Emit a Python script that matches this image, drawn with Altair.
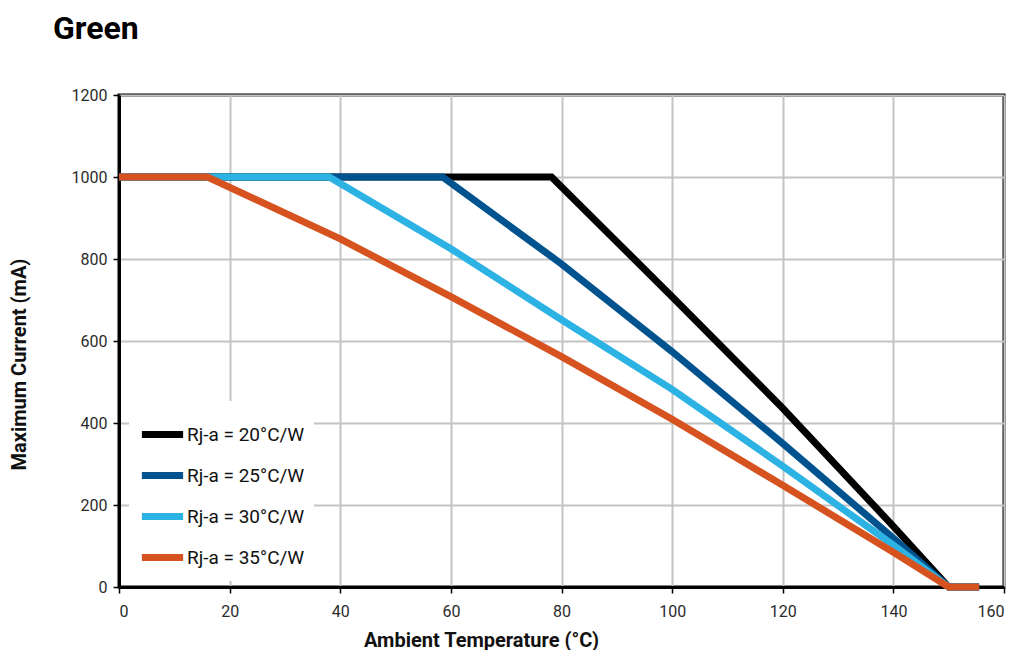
import altair as alt
import pandas as pd

# Data (Ambient temperature °C, maximum current mA)
series_names = ["Rj-a = 20°C/W", "Rj-a = 25°C/W", "Rj-a = 30°C/W", "Rj-a = 35°C/W"]
series_colors = ["#000000", "#00538f", "#2db2e4", "#d6521f"]

temp_20 = [0, 78.2, 100, 120, 140, 150, 155.5]
curr_20 = [1000, 1000, 708, 436, 148, 0, 0]

temp_25 = [0, 58.5, 80, 100, 120, 140, 150, 155.5]
curr_25 = [1000, 1000, 788, 574, 350, 119, 0, 0]

temp_30 = [0, 38.0, 60, 80, 100, 120, 140, 150, 155.5]
curr_30 = [1000, 1000, 825, 652, 482, 295, 102, 0, 0]

temp_35 = [0, 16.0, 40, 60, 80, 100, 120, 140, 150, 155.5]
curr_35 = [1000, 1000, 849, 708, 562, 409, 248, 85, 0, 0]

x_ticks = [0, 20, 40, 60, 80, 100, 120, 140, 160]
y_ticks = [0, 200, 400, 600, 800, 1000, 1200]

rows = []
for name, ts, cs in zip(series_names, [temp_20, temp_25, temp_30, temp_35],
                        [curr_20, curr_25, curr_30, curr_35]):
    for i, (t, c) in enumerate(zip(ts, cs)):
        rows.append({"series": name, "temp": t, "current": c, "idx": i})
df = pd.DataFrame(rows)

color_scale = alt.Scale(domain=series_names, range=series_colors)

x_enc = alt.X(
    "temp:Q",
    scale=alt.Scale(domain=[0, 160], nice=False, zero=False),
    axis=alt.Axis(
        values=x_ticks, title="Ambient Temperature (°C)", labelPadding=10,
        titleX=362, titleY=59, titleBaseline="alphabetic", titleAlign="center",
    ),
)
y_enc = alt.Y(
    "current:Q",
    scale=alt.Scale(domain=[0, 1200], nice=False),
    axis=alt.Axis(
        values=y_ticks, format="d", title="Maximum Current (mA)", labelPadding=6,
        titleX=-100, titleY=269, titleBaseline="middle", titleAlign="center", titleAngle=-90,
    ),
)

legend = alt.Legend(
    title=None, orient="none", legendX=10, legendY=306,
    fillColor="white", padding=9,
    symbolType="stroke", symbolSize=1700, symbolStrokeWidth=7,
    labelFont="Roboto", labelFontSize=19, labelColor="#111111",
    labelOffset=0, rowPadding=2, symbolOffset=0,
)

layers = []
for name in series_names:
    layer = (
        alt.Chart(df)
        .transform_filter(alt.datum.series == name)
        .mark_line(strokeWidth=7, strokeCap="butt", strokeJoin="miter", clip=False)
        .encode(
            x=x_enc,
            y=y_enc,
            order=alt.Order("idx:Q"),
            color=alt.Color("series:N", scale=color_scale, legend=legend),
        )
    )
    layers.append(layer)

chart = (
    alt.layer(*layers)
    .properties(
        width=885, height=492,
        padding={"left": 111, "top": 87, "right": 4, "bottom": 63},
        autosize=alt.AutoSizeParams(type="none"),
        title=alt.TitleParams(
            "Green", anchor="start", frame="group", dx=-66, offset=41,
            font="Roboto", fontSize=32, fontWeight="bold", color="#000000",
        ),
    )
    .configure_view(stroke="#000000", strokeWidth=3)
    .configure_axis(
        domainColor="#000000", domainWidth=3,
        gridColor="#c4c4c4", gridWidth=2,
        tickColor="#000000", tickWidth=1.5, tickSize=6,
        labelFont="Roboto", labelFontSize=16, labelColor="#2b2b2b",
        titleFont="Roboto", titleFontSize=20, titleFontWeight="bold", titleColor="#111111",
    )
)

chart.save("out.html", embed_options={"renderer": "svg", "actions": False})
